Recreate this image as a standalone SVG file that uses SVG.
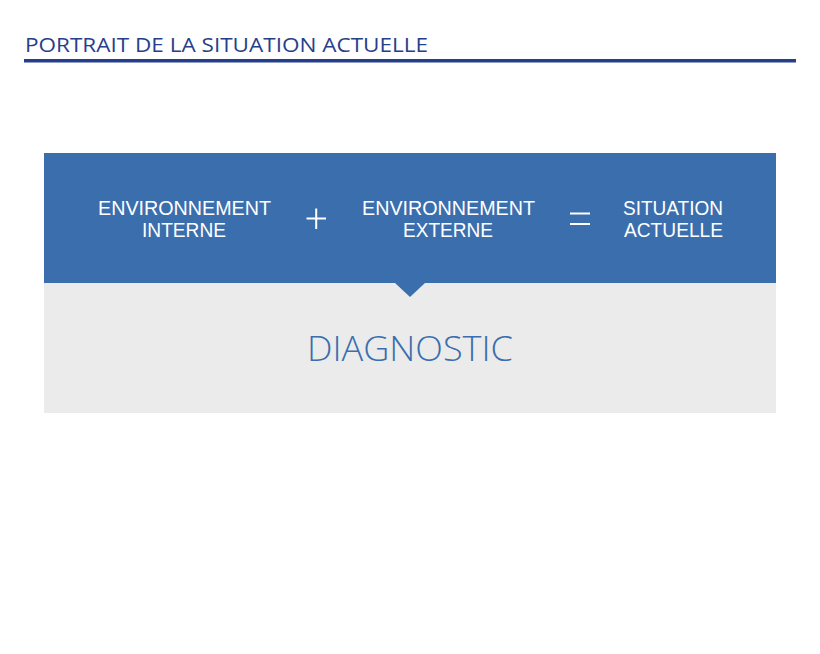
<svg xmlns="http://www.w3.org/2000/svg" width="820" height="654" viewBox="0 0 820 654">
<style>
.t{font-family:"Open Sans","Liberation Sans",sans-serif}
.l{font-family:"Liberation Sans","Open Sans",sans-serif}
.hdr{font-size:20px;fill:#263f8b}
.w{font-size:19.5px;fill:#ffffff;text-anchor:middle}
.op{stroke:#ffffff;stroke-width:2;fill:none}
.dg{font-size:34px;fill:#3a6eae;text-anchor:middle;font-weight:300}
</style>
<rect width="820" height="654" fill="#ffffff"/>
<g id="title">
<text class="t hdr" x="25" y="52" textLength="403" lengthAdjust="spacingAndGlyphs">PORTRAIT DE LA SITUATION ACTUELLE</text>
<rect x="24" y="59" width="772" height="3.5" fill="#263f8b"/>
</g>
<g id="header-band">
<rect x="44" y="153" width="732" height="130" fill="#3b6ead"/>
</g>
<g id="diagnostic-panel">
<rect x="44" y="283" width="732" height="130" fill="#ebebeb"/>
<polygon points="395,283 425,283 410,297" fill="#3b6ead"/>
<text class="t dg" x="410" y="361" textLength="206" lengthAdjust="spacingAndGlyphs">DIAGNOSTIC</text>
</g>
<g id="env-interne">
<text class="l w" x="184.5" y="215" textLength="173" lengthAdjust="spacingAndGlyphs">ENVIRONNEMENT</text>
<text class="l w" x="184" y="237" textLength="84" lengthAdjust="spacingAndGlyphs">INTERNE</text>
</g>
<g id="plus">
<line class="op" x1="306.5" y1="218.5" x2="326" y2="218.5"/>
<line class="op" x1="316.2" y1="208.5" x2="316.2" y2="229"/>
</g>
<g id="env-externe">
<text class="l w" x="448.5" y="215" textLength="173" lengthAdjust="spacingAndGlyphs">ENVIRONNEMENT</text>
<text class="l w" x="448" y="237" textLength="90" lengthAdjust="spacingAndGlyphs">EXTERNE</text>
</g>
<g id="equals">
<line class="op" x1="570" y1="213.5" x2="590" y2="213.5"/>
<line class="op" x1="570" y1="224" x2="590" y2="224"/>
</g>
<g id="situation-actuelle">
<text class="l w" x="673" y="215" textLength="100" lengthAdjust="spacingAndGlyphs">SITUATION</text>
<text class="l w" x="673.5" y="237" textLength="99" lengthAdjust="spacingAndGlyphs">ACTUELLE</text>
</g>
<g id="connectors"></g>
</svg>
